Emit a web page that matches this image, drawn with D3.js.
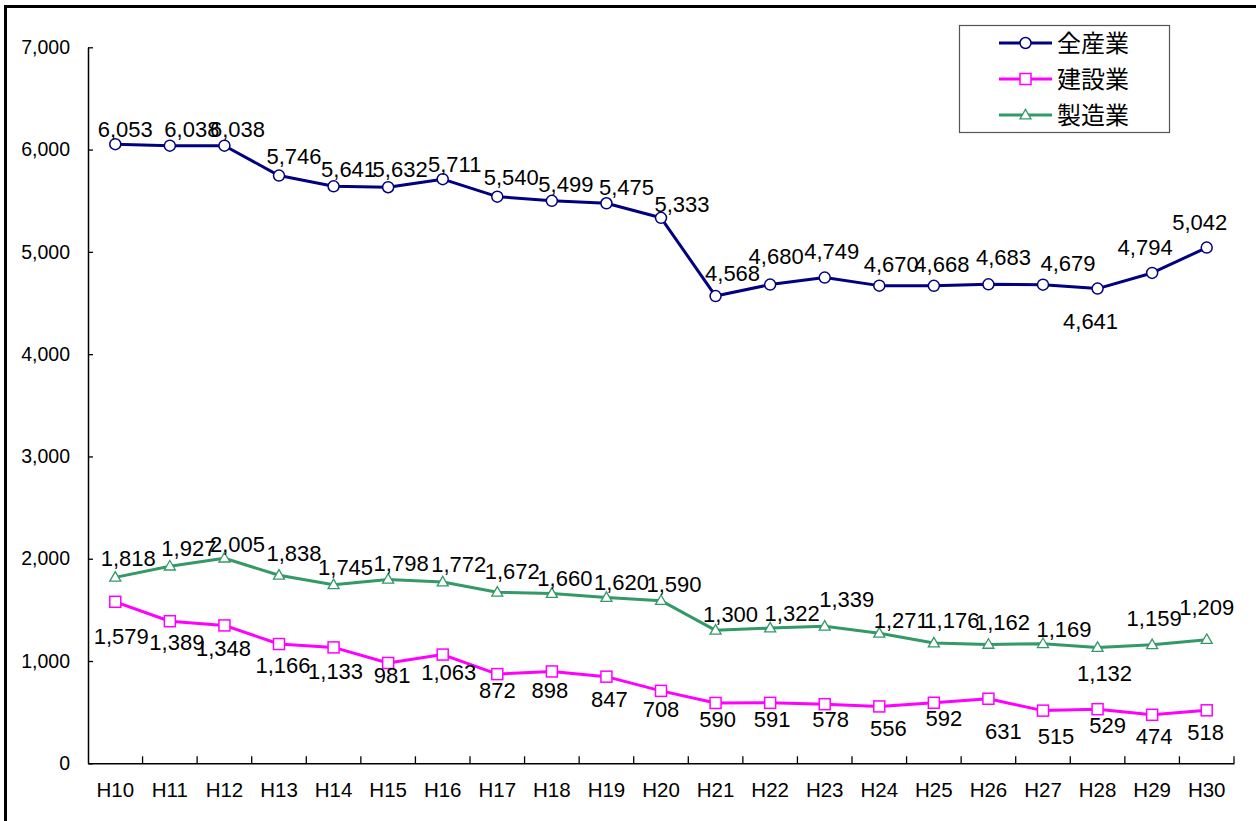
<!DOCTYPE html>
<html>
<head>
<meta charset="utf-8">
<script src="https://cdn.jsdelivr.net/npm/d3@7"></script>
<style>
  html, body { margin: 0; padding: 0; background: #fff; }
  svg { display: block; }
  text { font-family: "Liberation Sans", Arial, sans-serif; fill: #000; }
  .cjk { font-family: "Noto Sans CJK JP", "Noto Sans CJK SC", sans-serif; }
</style>
</head>
<body>
<svg id="chart" width="1256" height="821"></svg>
<script>
// ---- data ----
const categories = ["H10","H11","H12","H13","H14","H15","H16","H17","H18","H19","H20",
                    "H21","H22","H23","H24","H25","H26","H27","H28","H29","H30"];
const allIndustry   = [6053,6038,6038,5746,5641,5632,5711,5540,5499,5475,5333,
                       4568,4680,4749,4670,4668,4683,4679,4641,4794,5042];
const construction  = [1579,1389,1348,1166,1133,981,1063,872,898,847,708,
                       590,591,578,556,592,631,515,529,474,518];
const manufacturing = [1818,1927,2005,1838,1745,1798,1772,1672,1660,1620,1590,
                       1300,1322,1339,1271,1176,1162,1169,1132,1159,1209];
const seriesNames = ["全産業","建設業","製造業"];
const yTicks = [0,1000,2000,3000,4000,5000,6000,7000];

// ---- label placement (layout only) ----
const allDx = [10,22,13,15,15,12,12,14,14,20,21,17,6,7,12,8,15,25,-7,-7,-7];
const allDy = [-7,-9,-9,-12,-9,-10,-7,-12,-9,-8,-6,-15,-21,-19,-14,-14,-19,-14,40,-18,-18];
const conDx = [6,7,-1,4,2,4,6,0,-2,3,0,2,2,6,9,10,15,13,10,2,-1];
const conDy = [42,29,31,29,32,20,25,24,27,30,26,24,24,23,30,23,40,33,24,29,30];
const manDx = [13,19,13,15,12,13,16,15,13,15,13,15,22,22,22,18,14,21,7,2,0];
const manDy = [-11,-10,-6,-14,-10,-8,-10,-13,-8,-8,-9,-8,-7,-19,-5,-15,-14,-7,33,-19,-25];

const svg = d3.select("#chart");

// outer frame
svg.append("rect").attr("x",5.5).attr("y",6.5).attr("width",1400).attr("height",1000)
  .attr("fill","none").attr("stroke","#000").attr("stroke-width",3);

const x = d3.scaleBand().domain(categories).range([88,1234]).padding(0);
const y = d3.scaleLinear().domain([0,7000]).range([763.3,47.3]);
const fmt = d3.format(",");

// y axis
const yAxis = svg.append("g").attr("transform","translate(88,0)")
  .call(d3.axisLeft(y).tickValues(yTicks).tickFormat(fmt).tickSizeInner(-5).tickSizeOuter(0).tickPadding(18));
yAxis.selectAll("text").style("font-size","19.5px");
yAxis.selectAll("line").attr("stroke","#000").attr("stroke-width",1.3);
yAxis.select(".domain").attr("stroke","#000").attr("stroke-width",1.5);

// x axis
const xAxis = svg.append("g").attr("transform","translate(0,763.3)")
  .call(d3.axisBottom(x).tickSize(0).tickPadding(19.5));
xAxis.selectAll("text").style("font-size","20.5px");
xAxis.select(".domain").attr("stroke","#000").attr("stroke-width",1.5);
xAxis.selectAll(".bound").data(categories).enter().append("line")
  .attr("x1",d=>x(d)+x.bandwidth()).attr("x2",d=>x(d)+x.bandwidth())
  .attr("y1",0).attr("y2",-7).attr("stroke","#000").attr("stroke-width",1.3);

const cx = (i)=> x(categories[i]) + x.bandwidth()/2;

const series = [
  {name:seriesNames[0], vals:allIndustry,   color:"#000080", marker:"circle",   dx:allDx, dy:allDy},
  {name:seriesNames[1], vals:construction,  color:"#FF00FF", marker:"square",   dx:conDx, dy:conDy},
  {name:seriesNames[2], vals:manufacturing, color:"#339966", marker:"triangle", dx:manDx, dy:manDy}
];

function drawMarker(g, type, color, px, py) {
  if (type === "circle") {
    g.append("circle").attr("cx",px).attr("cy",py).attr("r",5.5)
      .attr("fill","#fff").attr("stroke",color).attr("stroke-width",1.5);
  } else if (type === "square") {
    g.append("rect").attr("x",px-5.5).attr("y",py-5.5).attr("width",11).attr("height",11)
      .attr("fill","#fff").attr("stroke",color).attr("stroke-width",1.5);
  } else {
    const s = 11, h = 9.5;
    g.append("path").attr("d",`M${px},${py-h*0.6}L${px+s/2},${py+h*0.4}L${px-s/2},${py+h*0.4}Z`)
      .attr("fill","#fff").attr("stroke",color).attr("stroke-width",1.3);
  }
}

const line = d3.line().x((d,i)=>cx(i)).y(d=>y(d));

// draw in order: manufacturing, construction, all
[2,1,0].forEach(k=>{
  const s = series[k];
  const g = svg.append("g");
  g.append("path").datum(s.vals).attr("d",line).attr("fill","none")
    .attr("stroke",s.color).attr("stroke-width",3).attr("stroke-linejoin","round");
  s.vals.forEach((v,i)=> drawMarker(g, s.marker, s.color, cx(i), y(v)));
});

// labels
series.forEach(s=>{
  svg.append("g").selectAll("text").data(s.vals).enter().append("text")
    .attr("x",(d,i)=>cx(i)+s.dx[i]).attr("y",(d,i)=>y(d)+s.dy[i])
    .attr("text-anchor","middle").style("font-size","22px")
    .text(d=>fmt(d));
});

// legend
const lg = svg.append("g");
lg.append("rect").attr("x",959.5).attr("y",25.5).attr("width",210).attr("height",107)
  .attr("fill","#fff").attr("stroke","#555").attr("stroke-width",1.2);
series.forEach((s,k)=>{
  const ly = 43 + k*36;
  lg.append("line").attr("x1",999).attr("x2",1052).attr("y1",ly).attr("y2",ly)
    .attr("stroke",s.color).attr("stroke-width",3);
  drawMarker(lg, s.marker, s.color, 1025.5, ly);
  lg.append("text").attr("class","cjk").attr("x",1057).attr("y",ly)
    .attr("dy","0.36em").style("font-size","24px").text(s.name);
});
</script>
</body>
</html>
